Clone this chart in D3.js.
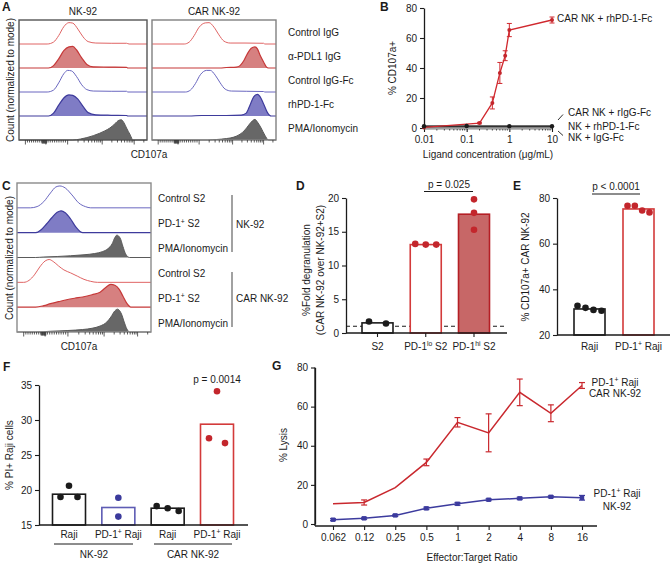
<!DOCTYPE html>
<html><head><meta charset="utf-8">
<script src="https://cdn.jsdelivr.net/npm/d3@7"></script>
<style>body{margin:0;background:#fff}svg{display:block}text{font-family:"Liberation Sans",Arial,Helvetica,sans-serif}</style>
</head><body><svg id="c" width="672" height="564"></svg>
<script>
// ================= DATA =================
// Panel A – flow histograms (x: normalized CD107a channel 0..1, y: normalized count 0..1)
const histAColumns = ["NK-92", "CAR NK-92"];
const histARowLabels = ["Control IgG", "α-PDL1 IgG", "Control IgG-Fc", "rhPD-1-Fc", "PMA/Ionomycin"];
const histA_NK = [
  [[0.22,0],[0.27,0.08],[0.31,0.35],[0.35,0.72],[0.39,0.89],[0.42,0.87],[0.46,0.62],[0.5,0.3],[0.54,0.1],[0.6,0.04],[0.72,0.03],[0.84,0.03],[0.86,0]],
  [[0.23,0],[0.27,0.1],[0.31,0.38],[0.35,0.72],[0.39,0.88],[0.42,0.9],[0.45,0.75],[0.49,0.42],[0.53,0.15],[0.58,0.05],[0.7,0.04],[0.84,0.03],[0.85,0]],
  [[0.22,0],[0.27,0.08],[0.31,0.38],[0.35,0.76],[0.38,0.9],[0.41,0.88],[0.45,0.64],[0.49,0.3],[0.53,0.1],[0.58,0.04],[0.72,0.03],[0.84,0.03],[0.85,0]],
  [[0.23,0],[0.27,0.12],[0.31,0.45],[0.35,0.75],[0.39,0.88],[0.42,0.86],[0.46,0.7],[0.5,0.4],[0.54,0.14],[0.6,0.05],[0.72,0.03],[0.84,0.02],[0.85,0]],
  [[0.42,0],[0.48,0.04],[0.53,0.1],[0.58,0.18],[0.63,0.28],[0.67,0.38],[0.71,0.5],[0.75,0.68],[0.78,0.82],[0.8,0.84],[0.82,0.72],[0.84,0.5],[0.87,0.2],[0.89,0]]
];
const histA_CAR = [
  [[0.26,0],[0.3,0.08],[0.34,0.35],[0.38,0.7],[0.43,0.88],[0.46,0.89],[0.5,0.7],[0.54,0.38],[0.58,0.12],[0.63,0.04],[0.75,0.04],[0.9,0.03],[0.91,0]],
  [[0.55,0],[0.6,0.02],[0.68,0.04],[0.71,0.1],[0.74,0.3],[0.77,0.6],[0.8,0.82],[0.83,0.88],[0.85,0.8],[0.87,0.55],[0.9,0.25],[0.92,0.06],[0.94,0]],
  [[0.27,0],[0.31,0.08],[0.35,0.35],[0.39,0.72],[0.44,0.9],[0.47,0.9],[0.51,0.7],[0.55,0.38],[0.59,0.12],[0.64,0.04],[0.76,0.03],[0.9,0.02],[0.91,0]],
  [[0.3,0],[0.4,0.02],[0.6,0.02],[0.72,0.04],[0.76,0.12],[0.79,0.45],[0.82,0.8],[0.85,0.9],[0.87,0.82],[0.9,0.5],[0.93,0.15],[0.95,0.02],[0.96,0]],
  [[0.45,0],[0.52,0.02],[0.6,0.06],[0.66,0.12],[0.71,0.24],[0.75,0.42],[0.78,0.62],[0.81,0.8],[0.83,0.86],[0.85,0.75],[0.88,0.5],[0.91,0.2],[0.94,0]]
];
// Panel C – flow histograms
const histCRowLabels = ["Control S2", "PD-1^{+} S2", "PMA/Ionomycin", "Control S2", "PD-1^{+} S2", "PMA/Ionomycin"];
const histCGroups = ["NK-92", "CAR NK-92"];
const histC = [
  [[0.1,0],[0.15,0.05],[0.2,0.25],[0.25,0.6],[0.29,0.84],[0.32,0.88],[0.36,0.8],[0.41,0.52],[0.46,0.2],[0.51,0.05],[0.55,0]],
  [[0.14,0],[0.18,0.12],[0.22,0.35],[0.26,0.6],[0.3,0.82],[0.33,0.88],[0.36,0.8],[0.4,0.55],[0.44,0.22],[0.47,0.05],[0.49,0]],
  [[0.14,0],[0.2,0.02],[0.3,0.04],[0.4,0.07],[0.5,0.11],[0.58,0.16],[0.64,0.24],[0.68,0.36],[0.71,0.55],[0.73,0.8],[0.745,0.9],[0.77,0.78],[0.79,0.45],[0.81,0.15],[0.83,0.02],[0.84,0]],
  [[0.05,0],[0.09,0.08],[0.13,0.3],[0.17,0.62],[0.21,0.86],[0.24,0.92],[0.27,0.84],[0.31,0.66],[0.35,0.5],[0.4,0.38],[0.45,0.25],[0.5,0.12],[0.55,0.04],[0.6,0]],
  [[0.14,0],[0.2,0.06],[0.25,0.14],[0.31,0.22],[0.37,0.3],[0.43,0.36],[0.49,0.41],[0.56,0.5],[0.62,0.6],[0.66,0.78],[0.7,0.92],[0.73,0.88],[0.76,0.74],[0.79,0.45],[0.82,0.15],[0.85,0]],
  [[0.14,0],[0.25,0.03],[0.38,0.06],[0.49,0.1],[0.56,0.15],[0.62,0.24],[0.67,0.4],[0.7,0.6],[0.73,0.85],[0.75,0.92],[0.78,0.72],[0.8,0.4],[0.82,0.12],[0.84,0]]
];
const histMajorTicks = [0.05, 0.21, 0.38, 0.65, 0.9];

// Panel B – dose response
const bConc = [0.01, 0.2, 0.4, 0.6, 0.8, 1, 10];
const bCarPd1 = [0.4, 3.3, 16.7, 36.7, 48.2, 65.3, 72.0];
const bCarPd1Err = [0, 0.5, 4.0, 7.0, 3.3, 4.4, 2.0];
const bCtrlConc = [0.01, 0.1, 1, 10];
const bCarRigg = [1.2, 1.3, 1.2, 1.2];
const bNkPd1 = [0.8, 0.9, 0.8, 0.9];
const bNkIgg = [0.4, 0.5, 0.4, 0.5];
const bLabels = ["CAR NK + rhPD-1-Fc", "CAR NK + rIgG-Fc", "NK + rhPD-1-Fc", "NK + IgG-Fc"];
const bXTicks = [0.01, 0.1, 1, 10];
const bYTicks = [0, 20, 40, 60, 80];

// Panel D
const dCats = ["S2", "PD-1^{lo} S2", "PD-1^{hi} S2"];
const dMeans = [1.5, 13.1, 17.6];
const dPoints = [[1.7, 1.4], [13.2, 13.1, 13.1], [19.8, 17.8, 15.3]];
const dYTicks = [0, 5, 10, 15, 20];
const dRef = 1;
const dP = "p = 0.025";

// Panel E
const eCats = ["Raji", "PD-1^{+} Raji"];
const eMeans = [31.4, 75.2];
const ePoints = [[32.8, 31.9, 31.0, 30.6], [76.6, 76.6, 74.5, 73.7]];
const eYTicks = [20, 40, 60, 80];
const eP = "p < 0.0001";

// Panel F
const fCats = ["Raji", "PD-1^{+} Raji", "Raji", "PD-1^{+} Raji"];
const fGroups = ["NK-92", "CAR NK-92"];
const fMeans = [19.4, 17.5, 17.4, 29.4];
const fPoints = [[19.0, 20.6, 19.0], [18.9, 16.2], [17.7, 17.4, 17.0], [27.4, 34.1, 26.7]];
const fYTicks = [15, 20, 25, 30, 35];
const fP = "p = 0.0014";

// Panel G
const gRatios = ["0.062", "0.12", "0.25", "0.5", "1", "2", "4", "8", "16"];
const gCar = [10.3, 11.0, 18.6, 31.5, 52.0, 46.6, 67.3, 56.6, 70.8];
const gCarErr = [0, 1.3, 0, 1.7, 2.4, 9.7, 6.8, 4.3, 1.5];
const gNk = [2.2, 2.9, 4.4, 8.0, 10.3, 12.4, 13.1, 13.9, 13.4];
const gNkErr = [0.5, 0.5, 0.5, 0.6, 0.7, 0.5, 0.6, 0.5, 1.2];
const gYTicks = [0, 20, 40, 60, 80];
const gSeriesLabels = [["PD-1^{+} Raji", "CAR NK-92"], ["PD-1^{+} Raji", "NK-92"]];

// ================= DRAWING =================
const svg = d3.select("#c");
svg.append("rect").attr("width", 672).attr("height", 564).attr("fill", "#fff");
const INK = "#1b1b1b", RED = "#c3262c", BLUE = "#3b3a9c";

function rich(sel, s) {
  const parts = s.split(/(\^\{[^}]*\})/).filter(Boolean);
  let raised = false;
  parts.forEach(p => {
    if (p.startsWith("^{")) {
      sel.append("tspan").attr("font-size", "0.68em").attr("dy", -3.6).text(p.slice(2, -1));
      raised = true;
    } else {
      const t = sel.append("tspan").text(p);
      if (raised) { t.attr("dy", 3.6); raised = false; }
    }
  });
}
function txt(x, y, s, o = {}) {
  const t = svg.append("text").attr("x", x).attr("y", y)
    .attr("font-size", o.size || 10).attr("fill", o.fill || INK)
    .attr("text-anchor", o.anchor || "start");
  if (o.bold) t.attr("font-weight", "bold");
  if (o.rotate) t.attr("transform", `rotate(-90,${x},${y})`);
  rich(t, s);
  return t;
}
function styleAxis(g) {
  g.selectAll(".domain").attr("stroke", INK).attr("stroke-width", 1.3);
  g.selectAll(".tick line").attr("stroke", INK).attr("stroke-width", 1.1);
  g.selectAll(".tick text").attr("font-size", 10).attr("fill", INK)
    .attr("font-family", '"Liberation Sans",Arial,sans-serif');
}
function line(x1, y1, x2, y2, c = INK, w = 1.2, dash) {
  const l = svg.append("line").attr("x1", x1).attr("y1", y1).attr("x2", x2).attr("y2", y2)
    .attr("stroke", c).attr("stroke-width", w);
  if (dash) l.attr("stroke-dasharray", dash);
  return l;
}

// ---- histogram panels ----
const HSTYLE = {
  redLine: {stroke: "#e06464", sw: 1},
  redFill: {fill: "#d68080", stroke: "#c63838", sw: 1.2},
  blueLine: {stroke: "#6a67c0", sw: 1},
  blueFill: {fill: "#7f7cc5", stroke: "#3e3b9c", sw: 1.2},
  gray: {fill: "#676767", stroke: "#5a5a5a", sw: 1}
};
function histPanel(x0, x1, yTop, yBot, rows, kinds, border) {
  const n = rows.length, rowH = (yBot - yTop) / n;
  const xs = d3.scaleLinear().domain([0, 1]).range([x0, x1]);
  const g = svg.append("g");
  rows.forEach((pts, i) => {
    const base = yTop + rowH * (i + 1);
    const ys = d3.scaleLinear().domain([0, 1]).range([base, base - rowH]);
    const full = [[0, 0]].concat(pts, [[1, 0]]);
    const k = HSTYLE[kinds[i]];
    if (k.fill) g.append("path").datum(full)
      .attr("d", d3.area().x(d => xs(d[0])).y0(base).y1(d => ys(d[1])).curve(d3.curveMonotoneX))
      .attr("fill", k.fill);
    g.append("path").datum(full)
      .attr("d", d3.line().x(d => xs(d[0])).y(d => ys(d[1])).curve(d3.curveMonotoneX))
      .attr("fill", "none").attr("stroke", k.stroke).attr("stroke-width", k.sw);
  });
  g.append("rect").attr("x", x0).attr("y", yTop).attr("width", x1 - x0).attr("height", yBot - yTop)
    .attr("fill", "none").attr("stroke", border).attr("stroke-width", 1.4);
  // biexponential-like tick marks
  const m = histMajorTicks, tg = svg.append("g").attr("stroke", "#333").attr("stroke-width", 0.8);
  const tick = (u, len) => { if (u >= 0 && u <= 1) tg.append("line").attr("x1", xs(u)).attr("x2", xs(u)).attr("y1", yBot).attr("y2", yBot + len); };
  m.forEach(u => tick(u, 4.5));
  for (let j = 1; j < 10; j++) tick(m[0] + (m[1] - m[0]) * j / 10, 2.5);
  for (let j = 1; j < 10; j++) tick(m[1] + (m[2] - m[1]) * j / 10, 2.5);
  for (let u = m[1] - 0.03; u <= m[1] + 0.01; u += 0.005) tick(u, 3.5);
  for (let k = 2; k < 10; k++) { tick(m[2] + Math.log10(k) * (m[3] - m[2]), 2.5); tick(m[3] + Math.log10(k) * (m[4] - m[3]), 2.5); tick(m[4] + Math.log10(k) * (m[4] - m[3]), 2.5); }
}
const kindsA_NK = ["redLine", "redFill", "blueLine", "blueFill", "gray"];
histPanel(19, 147, 20, 140, histA_NK, kindsA_NK, "#555");
histPanel(152, 276, 20, 140, histA_CAR, kindsA_NK, "#808080");
txt(2, 11, "A", {size: 12, bold: true});
txt(83, 15, histAColumns[0], {anchor: "middle"});
txt(214, 15, histAColumns[1], {anchor: "middle"});
histARowLabels.forEach((s, i) => txt(288, 20 + 24 * (i + 0.5) + 4, s));
txt(14, 80, "Count (normalized to mode)", {rotate: true, anchor: "middle"});
txt(149, 158, "CD107a", {anchor: "middle"});

const kindsC = ["blueLine", "blueFill", "gray", "redLine", "redFill", "gray"];
histPanel(17, 151, 183, 332, histC, kindsC, "#8a8a8a");
txt(2, 190, "C", {size: 12, bold: true});
const rowHC = (332 - 183) / 6;
histCRowLabels.forEach((s, i) => txt(158, 183 + rowHC * (i + 0.5) + 7, s));
line(232, 195, 232, 252, "#8a8a8a", 1.6);
line(232, 272, 232, 327, "#8a8a8a", 1.6);
txt(236, 228, histCGroups[0]);
txt(236, 302, histCGroups[1]);
txt(13, 258, "Count (normalized to mode)", {rotate: true, anchor: "middle"});
txt(79, 350, "CD107a", {anchor: "middle"});

// ---- Panel B ----
{
  const bx = d3.scaleLog().domain([0.01, 10]).range([424, 552]);
  const by = d3.scaleLinear().domain([0, 80]).range([128, 8]);
  const ax = svg.append("g").attr("transform", "translate(0,128)")
    .call(d3.axisBottom(bx).tickValues(bXTicks).tickFormat(d3.format("~g")).tickSize(4).tickSizeOuter(0).tickPadding(4));
  styleAxis(ax);
  [0.01, 0.1, 1].forEach(dec => { for (let k = 2; k < 10; k++) line(bx(dec * k), 128, bx(dec * k), 130.5, INK, 0.8); });
  const ay = svg.append("g").attr("transform", "translate(424,0)")
    .call(d3.axisLeft(by).tickValues(bYTicks).tickSize(4).tickSizeOuter(0).tickPadding(3));
  styleAxis(ay);
  const lg = d3.line().x(d => bx(d[0])).y(d => by(d[1]));
  svg.append("path").datum(bCtrlConc.map((c, i) => [c, bNkIgg[i]])).attr("d", lg).attr("fill", "none").attr("stroke", "#a0a0a0").attr("stroke-width", 3.5);
  svg.append("path").datum(bCtrlConc.map((c, i) => [c, bNkPd1[i]])).attr("d", lg).attr("fill", "none").attr("stroke", "#7a7a7a").attr("stroke-width", 2);
  svg.append("path").datum(bCtrlConc.map((c, i) => [c, bCarRigg[i]])).attr("d", lg).attr("fill", "none").attr("stroke", INK).attr("stroke-width", 1.2);
  svg.append("path").datum(bConc.map((c, i) => [c, bCarPd1[i]])).attr("d", lg).attr("fill", "none").attr("stroke", "#d0282e").attr("stroke-width", 1.3);
  bConc.forEach((c, i) => {
    const e = bCarPd1Err[i];
    if (e > 0) {
      line(bx(c), by(bCarPd1[i] - e), bx(c), by(bCarPd1[i] + e), "#d0282e", 1);
      line(bx(c) - 2.5, by(bCarPd1[i] - e), bx(c) + 2.5, by(bCarPd1[i] - e), "#d0282e", 1);
      line(bx(c) - 2.5, by(bCarPd1[i] + e), bx(c) + 2.5, by(bCarPd1[i] + e), "#d0282e", 1);
    }
    svg.append("circle").attr("cx", bx(c)).attr("cy", by(bCarPd1[i])).attr("r", 2).attr("fill", "#c3262c");
  });
  bCtrlConc.forEach((c, i) => svg.append("circle").attr("cx", bx(c)).attr("cy", by(bCarRigg[i])).attr("r", 2.2).attr("fill", INK));
  txt(380, 11, "B", {size: 12, bold: true});
  txt(557, 22, bLabels[0]);
  txt(568, 116, bLabels[1]);
  txt(568, 129.5, bLabels[2]);
  txt(568, 141, bLabels[3]);
  line(558, 120, 563, 114.5, INK, 0.9);
  line(558, 131, 563, 135.5, INK, 0.9);
  txt(396, 68, "% CD107a+", {rotate: true, anchor: "middle"});
  txt(488, 158, "Ligand concentration (μg/mL)", {anchor: "middle"});
}

// ---- bar + dot helper ----
function barPanel(o) {
  const y = d3.scaleLinear().domain(o.yDom).range(o.yRange);
  const x = d3.scalePoint().domain(d3.range(o.means.length)).range(o.xRange);
  const ay = svg.append("g").attr("transform", `translate(${o.axisX},0)`)
    .call(d3.axisLeft(y).tickValues(o.yTicks).tickSize(4).tickSizeOuter(0).tickPadding(3));
  styleAxis(ay);
  if (o.ref !== undefined) line(o.axisX, y(o.ref), o.xEnd, y(o.ref), INK, 1.1, "4,3");
  o.means.forEach((m, i) => {
    svg.append("rect").attr("x", x(i) - o.bw / 2).attr("y", y(m)).attr("width", o.bw).attr("height", y(o.yDom[0]) - y(m))
      .attr("fill", o.fills[i]).attr("stroke", o.strokes[i]).attr("stroke-width", 1.6);
  });
  line(o.axisX, y(o.yDom[0]), o.xEnd, y(o.yDom[0]), INK, 1.3);
  if (o.xTicks) o.means.forEach((m, i) => line(x(i), y(o.yDom[0]), x(i), y(o.yDom[0]) + 4, INK, 1.1));
  o.points.forEach((arr, i) => {
    const n = arr.length, sp = o.spread[i];
    arr.forEach((v, j) => {
      const dx = n > 1 ? -sp / 2 + sp * j / (n - 1) : 0;
      svg.append("circle").attr("cx", x(i) + dx).attr("cy", y(v)).attr("r", 3.3).attr("fill", o.dotColors[i]);
    });
  });
  o.cats.forEach((c, i) => txt(x(i), o.labelY, c, {anchor: "middle"}));
  return {x, y};
}

// ---- Panel D ----
barPanel({
  yDom: [0, 20], yRange: [333, 198], xRange: [377.5, 474], axisX: 346, xEnd: 507, bw: 31,
  means: dMeans, points: dPoints, cats: dCats, yTicks: dYTicks, ref: dRef, xTicks: true,
  fills: ["#fff", "#fff", "#c76767"], strokes: [INK, "#d33a3a", "#b51f25"],
  dotColors: [INK, RED, RED], spread: [17, 21, 0], labelY: 350
});
txt(296, 190, "D", {size: 12, bold: true});
line(424, 191.5, 473, 191.5, INK, 1);
txt(449, 188, dP, {anchor: "middle"});
txt(310, 270, "%Fold degranulation", {rotate: true, anchor: "middle"});
txt(324, 270, "(CAR NK-92 over NK-92+S2)", {rotate: true, anchor: "middle"});

// ---- Panel E ----
barPanel({
  yDom: [20, 80], yRange: [335, 198], xRange: [589.5, 638.5], axisX: 557, xEnd: 670, bw: 31,
  means: eMeans, points: ePoints, cats: eCats, yTicks: eYTicks,
  fills: ["#fff", "#fff"], strokes: [INK, "#d33a3a"], dotColors: [INK, RED], spread: [24, 22], labelY: 350
});
txt(513, 190, "E", {size: 12, bold: true});
line(592, 194, 640, 194, INK, 1);
txt(616, 190, eP, {anchor: "middle"});
txt(529, 267, "% CD107a+ CAR NK-92", {rotate: true, anchor: "middle"});

// ---- Panel F ----
barPanel({
  yDom: [15, 35], yRange: [525, 385], xRange: [69, 217], axisX: 39, xEnd: 248, bw: 33,
  means: fMeans, points: fPoints, cats: fCats, yTicks: fYTicks,
  fills: ["#fff", "#fff", "#fff", "#fff"], strokes: [INK, "#5e5cb4", INK, "#d33a3a"],
  dotColors: [INK, BLUE, INK, RED], spread: [17, 0, 22, 16], labelY: 538
});
txt(3, 371, "F", {size: 12, bold: true});
line(54, 544, 133, 544, INK, 1);
line(154, 544, 232, 544, INK, 1);
txt(94, 558, fGroups[0], {anchor: "middle"});
txt(193, 558, fGroups[1], {anchor: "middle"});
txt(217, 383, fP, {anchor: "middle"});
txt(13, 455, "% PI+ Raji cells", {rotate: true, anchor: "middle"});

// ---- Panel G ----
{
  const gx = d3.scalePoint().domain(gRatios).range([333, 582]);
  const gy = d3.scaleLinear().domain([0, 80]).range([524, 367.5]);
  const ay = svg.append("g").attr("transform", "translate(315,0)")
    .call(d3.axisLeft(gy).tickValues(gYTicks).tickSize(4).tickSizeOuter(0).tickPadding(3));
  styleAxis(ay);
  line(315, 367.5, 315, 526, INK, 1.3);
  const ax = svg.append("g").attr("transform", "translate(0,526)")
    .call(d3.axisBottom(gx).tickSize(4).tickSizeOuter(0).tickPadding(4));
  styleAxis(ax);
  ax.select(".domain").remove();
  line(315, 526, 597, 526, INK, 1.3);
  const series = [[gCar, gCarErr, "#c9282e"], [gNk, gNkErr, "#3c3b9e"]];
  series.forEach(([vals, errs, col], si) => {
    svg.append("path").datum(vals).attr("d", d3.line().x((d, i) => gx(gRatios[i])).y(d => gy(d)))
      .attr("fill", "none").attr("stroke", col).attr("stroke-width", 1.5);
    vals.forEach((v, i) => {
      const cx = gx(gRatios[i]), e = errs[i];
      if (e > 0) {
        line(cx, gy(v - e), cx, gy(v + e), col, 1.2);
        line(cx - 3, gy(v - e), cx + 3, gy(v - e), col, 1.2);
        line(cx - 3, gy(v + e), cx + 3, gy(v + e), col, 1.2);
      }
      if (si === 1) svg.append("rect").attr("x", cx - 2.2).attr("y", gy(v) - 2.2).attr("width", 4.4).attr("height", 4.4).attr("fill", col);
    });
  });
  txt(272, 370, "G", {size: 12, bold: true});
  txt(615, 386, gSeriesLabels[0][0], {anchor: "middle"});
  txt(615, 397, gSeriesLabels[0][1], {anchor: "middle"});
  txt(617, 497, gSeriesLabels[1][0], {anchor: "middle"});
  txt(617, 510, gSeriesLabels[1][1], {anchor: "middle"});
  txt(287, 445, "% Lysis", {rotate: true, anchor: "middle"});
  txt(472, 561, "Effector:Target Ratio", {anchor: "middle"});
}
</script></body></html>
